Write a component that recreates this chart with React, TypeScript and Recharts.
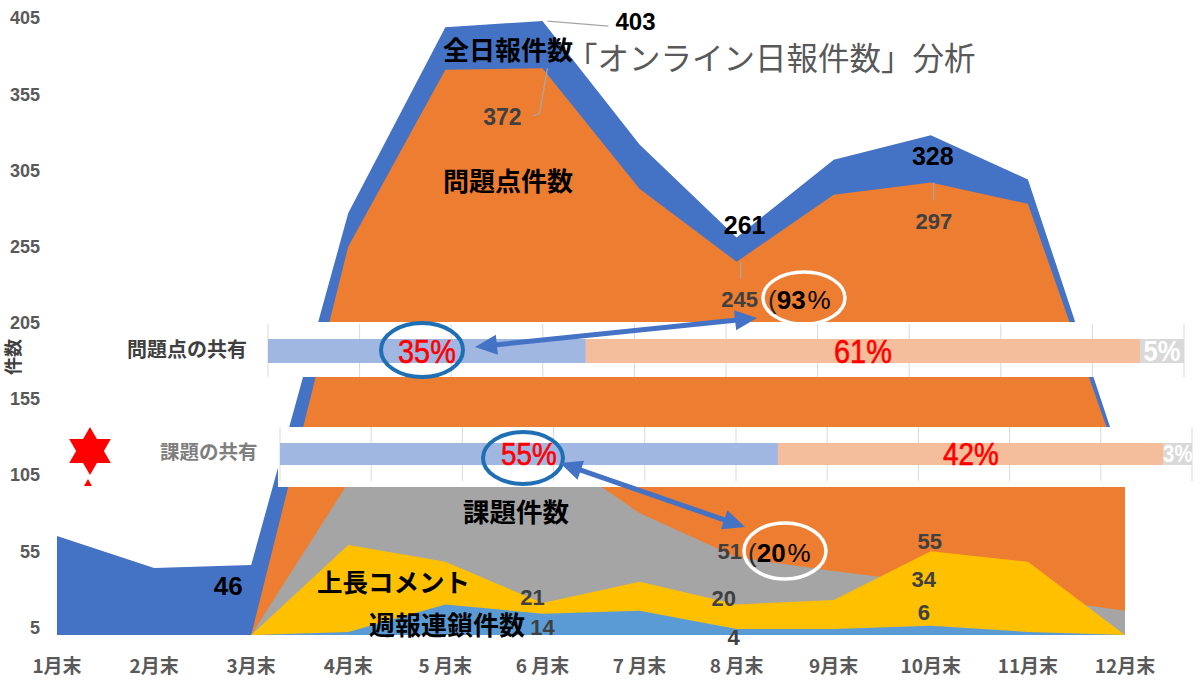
import React from 'react';
import {
  AreaChart, Area, XAxis, YAxis, ReferenceDot,
  BarChart, Bar, CartesianGrid, LabelList,
} from 'recharts';

// ---------- data ----------
const months = ['1月末', '2月末', '3月末', '4月末', '5 月末', '6 月末', '7 月末', '8 月末', '9月末', '10月末', '11月末', '12月末'];
const totalReports = [65, 44, 46, 277, 399, 403, 322, 261, 312, 328, 299, 107];
const problemCounts = [0, 0, 0, 255, 371, 372, 293, 245, 289, 297, 283, 102];
const issueCounts = [0, 0, 0, 100, 128, 124, 80, 51, 42, 34, 25, 16];
const bossComments = [0, 0, 0, 59, 48, 21, 35, 20, 23, 55, 48, 0];
const weeklyChains = [0, 0, 0, 2, 20, 14, 16, 4, 4, 6, 2, 0];
const yTicks = [5, 55, 105, 155, 205, 255, 305, 355, 405];

const shareKeys = ['shared', 'partial', 'none'];
const problemShare = [34.7, 60.5, 4.8];
const issueShare = [54.6, 42.3, 3.1];
const shareTicks = [0, 10, 20, 30, 40, 50, 60, 70, 80, 90, 100];

const chartData = months.map((m, i) => ({
  month: m,
  total: totalReports[i],
  problems: problemCounts[i],
  issues: issueCounts[i],
  comments: bossComments[i],
  weekly: weeklyChains[i],
}));

const seriesValues: Record<string, number[]> = {
  total: totalReports,
  problems: problemCounts,
  issues: issueCounts,
  comments: bossComments,
  weekly: weeklyChains,
};

const problemShareRow = [Object.fromEntries([['name', '問題点の共有'], ...shareKeys.map((k, i) => [k, problemShare[i]])])];
const issueShareRow = [Object.fromEntries([['name', '課題の共有'], ...shareKeys.map((k, i) => [k, issueShare[i]])])];

// ---------- styles ----------
const NUM_FONT = '"Liberation Sans", Arial, sans-serif';
const JP_FONT = '"Noto Sans CJK JP", "Noto Sans", sans-serif';
const COL = {
  total: '#4472C4',
  problems: '#ED7D31',
  issues: '#A5A5A5',
  comments: '#FFC000',
  weekly: '#5B9BD5',
};
const SHARE_COL = ['#A0B7E2', '#F4BE9C', '#D9D9D9'];

type Note = {
  series: string; idx: number; dx: number; dy: number;
  anchor: 'start' | 'middle'; color: string; size: number;
  leader?: number[][];
};

const notes: Note[] = [
  { series: 'total', idx: 5, dx: 73, dy: 9, anchor: 'start', color: '#000', size: 24, leader: [[5, 0], [66, 5]] },
  { series: 'problems', idx: 5, dx: -40, dy: 57, anchor: 'middle', color: '#404040', size: 23, leader: [[5, 0], [-3, 45], [-10, 48]] },
  { series: 'total', idx: 7, dx: 8, dy: -3, anchor: 'middle', color: '#000', size: 25 },
  { series: 'problems', idx: 7, dx: 3, dy: 45, anchor: 'middle', color: '#404040', size: 22, leader: [[4, 0], [4, 17]] },
  { series: 'total', idx: 9, dx: 2, dy: 30, anchor: 'middle', color: '#000', size: 25 },
  { series: 'problems', idx: 9, dx: 3, dy: 46, anchor: 'middle', color: '#404040', size: 22, leader: [[3, 0], [3, 18]] },
  { series: 'total', idx: 2, dx: -23, dy: 30, anchor: 'middle', color: '#000', size: 26 },
  { series: 'issues', idx: 7, dx: -7, dy: 2, anchor: 'middle', color: '#404040', size: 22 },
  { series: 'comments', idx: 7, dx: -13, dy: 1, anchor: 'middle', color: '#404040', size: 22 },
  { series: 'weekly', idx: 7, dx: -3, dy: 16, anchor: 'middle', color: '#404040', size: 22 },
  { series: 'comments', idx: 5, dx: -10, dy: 2, anchor: 'middle', color: '#404040', size: 22 },
  { series: 'weekly', idx: 5, dx: 0, dy: 21, anchor: 'middle', color: '#404040', size: 22 },
  { series: 'comments', idx: 9, dx: -1, dy: -2, anchor: 'middle', color: '#404040', size: 22 },
  { series: 'issues', idx: 9, dx: -7, dy: 4, anchor: 'middle', color: '#404040', size: 22 },
  { series: 'weekly', idx: 9, dx: -7, dy: -6, anchor: 'middle', color: '#404040', size: 22 },
];

function NoteShape(props: any) {
  const { cx, cy, note, value } = props;
  if (cx == null || cy == null) return null;
  const n: Note = note;
  const pts = n.leader ? n.leader.map(([a, b]) => `${cx + a},${cy + b}`).join(' ') : null;
  return (
    <g>
      {pts && <polyline points={pts} fill="none" stroke="#A6A6A6" strokeWidth={1.3} />}
      <text x={cx + n.dx} y={cy + n.dy} textAnchor={n.anchor} fill={n.color}
        fontSize={n.size} fontWeight={700} fontFamily={NUM_FONT}>{value}</text>
    </g>
  );
}

const makeShareLabel = (color: string, size: number, sx: number, weight: number, strokeW: number) => (props: any) => {
  const { x, y, width, height, value } = props;
  const cx = Number(x) + Number(width) / 2;
  const cy = Number(y) + Number(height) / 2;
  return (
    <text transform={`translate(${cx},${cy}) scale(${sx},1)`} textAnchor="middle" dominantBaseline="central"
      fill={color} stroke={strokeW > 0 ? color : 'none'} strokeWidth={strokeW}
      fontSize={size} fontWeight={weight} fontFamily={NUM_FONT}>
      {Math.round(Number(value))}%
    </text>
  );
};

function arrowPoints(x1: number, y1: number, x2: number, y2: number, shaft = 5, headLen = 22, headW = 20) {
  const len = Math.hypot(x2 - x1, y2 - y1);
  const ux = (x2 - x1) / len, uy = (y2 - y1) / len;
  const nx = -uy, ny = ux;
  const b1 = [x1 + ux * headLen, y1 + uy * headLen];
  const b2 = [x2 - ux * headLen, y2 - uy * headLen];
  const p = (b: number[], w: number) => `${b[0] + nx * w},${b[1] + ny * w}`;
  return [
    `${x1},${y1}`, p(b1, headW / 2), p(b1, shaft / 2), p(b2, shaft / 2), p(b2, headW / 2),
    `${x2},${y2}`, p(b2, -headW / 2), p(b2, -shaft / 2), p(b1, -shaft / 2), p(b1, -headW / 2),
  ].join(' ');
}

function ShareBand(props: { row: any[]; left: number; top: number; width: number; height: number; margin: any; barSize: number; big: number; small: number; sx: number }) {
  const { row, left, top, width, height, margin, barSize, big, small, sx } = props;
  return (
    <div style={{ position: 'absolute', left, top, width, height, background: '#fff' }}>
      <BarChart width={width} height={height} data={row} layout="vertical" margin={margin}>
        <CartesianGrid horizontal={false} vertical stroke="#D9D9D9" strokeWidth={1} />
        <XAxis type="number" domain={[0, 100]} ticks={shareTicks} hide />
        <YAxis type="category" dataKey="name" hide />
        {shareKeys.map((k, i) => (
          <Bar key={k} dataKey={k} stackId="s" fill={SHARE_COL[i]} barSize={barSize} isAnimationActive={false}>
            <LabelList dataKey={k} content={i < 2 ? makeShareLabel('#FF0000', big, sx, 400, 0.6) : makeShareLabel('#FFFFFF', small, 0.85, 700, 0)} />
          </Bar>
        ))}
      </BarChart>
    </div>
  );
}

export default function App() {
  const hexR = 24;
  const sc = 90, sy = 451;
  const c30 = Math.cos(Math.PI / 6) * hexR, s30 = hexR / 2;
  return (
    <div style={{ position: 'absolute', left: 0, top: 0, width: 1200, height: 681, background: '#fff', overflow: 'hidden' }}>
      <AreaChart width={1200} height={681} data={chartData} margin={{ top: 18, right: 75, bottom: 16, left: 0 }}>
        <XAxis dataKey="month" scale="point" padding={{ left: 0, right: 0 }} axisLine={false} tickLine={false}
          tickSize={0} tickMargin={25} height={30} interval={0}
          tick={{ fill: '#595959', fontSize: 19, fontWeight: 700, fontFamily: JP_FONT }} />
        <YAxis domain={[0, 405]} ticks={yTicks} axisLine={false} tickLine={false} tickSize={0} tickMargin={17}
          width={57} interval={0} allowDataOverflow
          tick={{ fill: '#595959', fontSize: 18, fontWeight: 700, fontFamily: NUM_FONT }} />
        <Area type="linear" dataKey="total" stroke="none" fill={COL.total} fillOpacity={1} isAnimationActive={false} dot={false} activeDot={false} />
        <Area type="linear" dataKey="problems" stroke="none" fill={COL.problems} fillOpacity={1} isAnimationActive={false} dot={false} activeDot={false} />
        <Area type="linear" dataKey="issues" stroke="none" fill={COL.issues} fillOpacity={1} isAnimationActive={false} dot={false} activeDot={false} />
        <Area type="linear" dataKey="comments" stroke="none" fill={COL.comments} fillOpacity={1} isAnimationActive={false} dot={false} activeDot={false} />
        <Area type="linear" dataKey="weekly" stroke="none" fill={COL.weekly} fillOpacity={1} isAnimationActive={false} dot={false} activeDot={false} />
        {notes.map((n, i) => {
          const v = seriesValues[n.series][n.idx];
          return (
            <ReferenceDot key={i} x={months[n.idx]} y={v} r={0} ifOverflow="visible"
              shape={(p: any) => <NoteShape {...p} note={n} value={v} />} />
          );
        })}
      </AreaChart>

      <ShareBand row={problemShareRow} left={266} top={322} width={923} height={55}
        margin={{ top: 2, bottom: 0, left: 2, right: 5 }} barSize={24} big={34} small={30} sx={0.85} />
      <ShareBand row={issueShareRow} left={278} top={427} width={919} height={60}
        margin={{ top: 0, bottom: 6, left: 2, right: 5 }} barSize={22} big={31} small={24} sx={0.9} />

      <svg width={1200} height={681} style={{ position: 'absolute', left: 0, top: 0, pointerEvents: 'none' }}>
        {/* title */}
        <text x={566} y={70} fontSize={31.5} fill="#595959" fontFamily={JP_FONT}>「オンライン日報件数」分析</text>
        {/* series names */}
        <text x={443} y={60} fontSize={26} fill="#000" fontWeight={700} fontFamily={JP_FONT}>全日報件数</text>
        <text x={443} y={191} fontSize={26} fill="#000" fontWeight={700} fontFamily={JP_FONT}>問題点件数</text>
        <text x={463} y={522} fontSize={26.5} fill="#000" fontWeight={700} fontFamily={JP_FONT}>課題件数</text>
        <text x={317} y={592} fontSize={25.5} fill="#000" fontWeight={700} fontFamily={JP_FONT}>上長コメント</text>
        <text x={369} y={635} fontSize={26} fill="#000" fontWeight={700} fontFamily={JP_FONT}>週報連鎖件数</text>
        {/* band labels */}
        <text x={127} y={357} fontSize={20} fill="#404040" fontWeight={700} fontFamily={JP_FONT}>問題点の共有</text>
        <text x={160} y={459} fontSize={19.5} fill="#7F7F7F" fontWeight={700} fontFamily={JP_FONT}>課題の共有</text>
        {/* y axis title */}
        <text transform="translate(20,357) rotate(-90)" textAnchor="middle" fontSize={18} fontWeight={700} fill="#404040" fontFamily={JP_FONT}>件数</text>
        {/* star */}
        <polygon points={`${sc},${sy - hexR} ${sc + c30},${sy + s30} ${sc - c30},${sy + s30}`} fill="#FF0000" />
        <polygon points={`${sc},${sy + hexR} ${sc + c30},${sy - s30} ${sc - c30},${sy - s30}`} fill="#FF0000" />
        <polygon points="88,479 92,486 84,486" fill="#FF0000" />
        {/* circles */}
        <ellipse cx={422} cy={350} rx={41} ry={27} fill="none" stroke="#1F6FB5" strokeWidth={4} />
        <ellipse cx={523} cy={458} rx={40} ry={26} fill="none" stroke="#1F6FB5" strokeWidth={4} />
        <ellipse cx={804} cy={298} rx={41} ry={26} fill="none" stroke="#FFFFFF" strokeWidth={3.5} />
        <ellipse cx={785} cy={551} rx={41} ry={28} fill="none" stroke="#FFFFFF" strokeWidth={3.5} />
        <text x={768} y={309} fontSize={26} fill="#000" fontFamily={NUM_FONT}>
          <tspan fontWeight={400} fill="#262626">(</tspan><tspan fontWeight={700}>93</tspan><tspan fontWeight={400} dx={2}>%</tspan>
        </text>
        <text x={748} y={562} fontSize={26} fill="#000" fontFamily={NUM_FONT}>
          <tspan fontWeight={400} fill="#262626">(</tspan><tspan fontWeight={700}>20</tspan><tspan fontWeight={400} dx={2}>%</tspan>
        </text>
        {/* arrows */}
        <polygon points={arrowPoints(475, 347, 757, 318)} fill="#4472C4" />
        <polygon points={arrowPoints(560, 463, 745, 527)} fill="#4472C4" />
      </svg>
    </div>
  );
}
